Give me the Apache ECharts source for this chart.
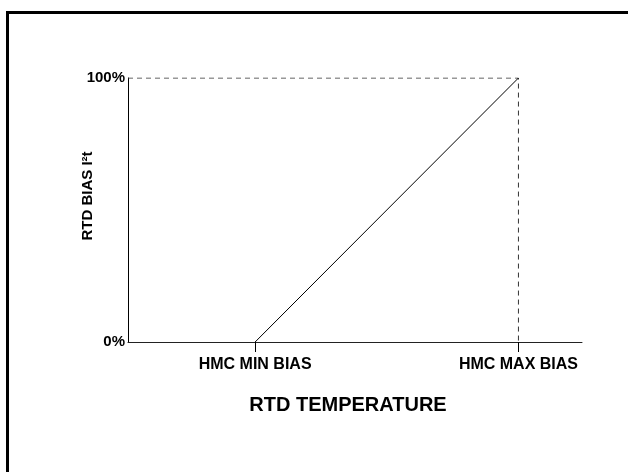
<!DOCTYPE html>
<html>
<head>
<meta charset="utf-8">
<script src="https://cdn.jsdelivr.net/npm/echarts@6/dist/echarts.min.js"></script>
<style>
html, body { margin: 0; padding: 0; background: #fff; }
#chart { width: 628px; height: 472px; }
</style>
</head>
<body>
<div id="chart"></div>
<script>
// temperature axis runs 0..100 (arbitrary units), bias 0..100 %
const xTickValues = [28, 86];
const xTickLabels = ['HMC MIN BIAS', 'HMC MAX BIAS'];
const yTickValues = [0, 100];
const yTickLabels = ['0%', '100%'];
const biasLine = [[28, 0], [86, 100]];
const guideLine = [[0, 100], [86, 100], [86, 0]];

const font = 'Liberation Sans, Arial, sans-serif';
const myChart = echarts.init(document.getElementById('chart'), null, { renderer: 'canvas' });

let option = {
	animation: false,
	backgroundColor: '#fff',
	grid: {
		left: 128,
		right: 46,
		top: 78,
		bottom: 130,
	},
	xAxis: {
		type: 'value',
		min: 0,
		max: 100,
		axisLine: { show: true, lineStyle: { color: '#222', width: 1 } },
		axisTick: {
			show: true,
			customValues: xTickValues,
			length: 10,
			inside: false,
			lineStyle: { color: '#000', width: 1 }
		},
		axisLabel: {
			customValues: xTickValues,
			formatter: function (v) {
				return xTickLabels[xTickValues.indexOf(v)] || '';
			},
			margin: 15,
			color: '#000',
			fontFamily: font,
			fontWeight: 'bold',
			fontSize: 16
		},
		splitLine: { show: false }
	},
	yAxis: {
		type: 'value',
		min: 0,
		max: 100,
		axisLine: { show: true, lineStyle: { color: '#000', width: 1 } },
		axisTick: { show: false },
		axisLabel: {
			customValues: yTickValues,
			formatter: function (v) {
				return yTickLabels[yTickValues.indexOf(v)] || '';
			},
			margin: 3,
			color: '#000',
			fontFamily: font,
			fontWeight: 'bold',
			fontSize: 15
		},
		splitLine: { show: false }
	},
	series: [
		{
			type: 'line',
			data: guideLine,
			symbol: 'none',
			lineStyle: { color: '#333', width: 1, type: [5, 4] },
			z: 1
		},
		{
			type: 'line',
			data: biasLine,
			symbol: 'none',
			lineStyle: { color: '#000', width: 1 },
			z: 2
		}
	],
	graphic: [
		{
			type: 'rect',
			shape: { x: 7.5, y: 12.5, width: 700, height: 600 },
			style: { fill: 'none', stroke: '#000', lineWidth: 3 }
		},
		{
			type: 'text',
			x: 88,
			y: 196,
			rotation: Math.PI / 2,
			style: {
				text: 'RTD BIAS I²t',
				fontFamily: font,
				fontWeight: 'bold',
				fontSize: 15,
				fill: '#000',
				align: 'center',
				verticalAlign: 'middle'
			}
		},
		{
			type: 'text',
			x: 348,
			y: 405,
			style: {
				text: 'RTD TEMPERATURE',
				fontFamily: font,
				fontWeight: 'bold',
				fontSize: 20,
				fill: '#000',
				align: 'center',
				verticalAlign: 'middle'
			}
		}
	]
};
myChart.setOption(option);
</script>
</body>
</html>
